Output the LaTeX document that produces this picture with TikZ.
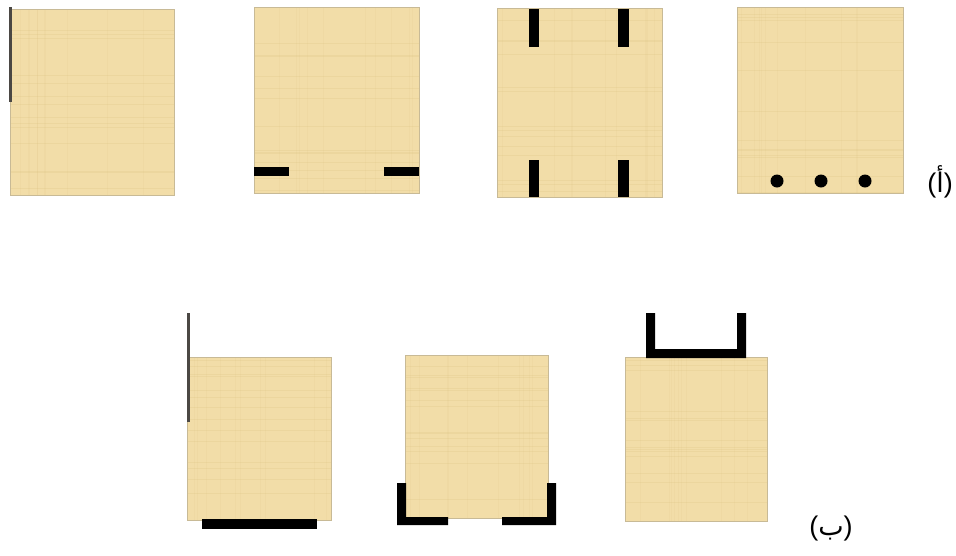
\documentclass[tikz,border=0pt]{standalone}
\usepackage{fontspec}
\setmainfont{Liberation Sans}
\newfontfamily\arabicfont[Script=Arabic]{DejaVu Sans}
\TeXXeTstate=1
\definecolor{papyrus}{RGB}{242,221,168}
\definecolor{papyrusedge}{RGB}{200,186,150}
\definecolor{papyrusfiber}{RGB}{214,186,120}
\definecolor{bargray}{RGB}{75,72,68}
\tikzset{
  sheet/.style={draw=papyrusedge, line width=0.7pt, fill=papyrus, inner sep=0pt, outer sep=0pt, anchor=north west, rectangle},
  blackbar/.style={fill=black},
  thinbar/.style={fill=bargray},
  fiber/.style={draw=papyrusfiber, line width=0.8pt, opacity=0.2},
  lbl/.style={font=\fontsize{27}{31}\selectfont, inner sep=0pt}
}
\newcommand\mysheet[5]{%
  \node[sheet, minimum width=#4pt, minimum height=#5pt] (#1) at (#2,#3) {};
  \begin{scope}
    \clip (#1.north west) rectangle (#1.south east);
    \foreach \k in {1,...,14}{
      \pgfmathsetmacro\yy{#3+rnd*#5}
      \draw[fiber] (#2,\yy) -- (#2+#4,\yy);
    }
    \foreach \k in {1,...,10}{
      \pgfmathsetmacro\xx{#2+rnd*#4}
      \draw[fiber, opacity=0.1] (\xx,#3) -- (\xx,#3+#5);
    }
  \end{scope}
  \draw[papyrusedge, line width=0.7pt] (#1.north west) rectangle (#1.south east);
}
\begin{document}
\begin{tikzpicture}[x=1pt,y=-1pt]
\pgfmathsetseed{7}
\useasboundingbox (0,0) rectangle (956,555);
% row (a)
\mysheet{a1}{10}{9}{164}{186}
\mysheet{a2}{254}{7}{165}{186}
\mysheet{a3}{497}{8}{165}{189}
\mysheet{a4}{737}{7}{166}{186}
% row (b)
\mysheet{b1}{187}{357}{144}{163}
\mysheet{b2}{405}{355}{143}{163}
\mysheet{b3}{625}{357}{142}{164}

% marks on (a)
\fill[thinbar] (8.5,7) rectangle (11.5,102);
\fill[blackbar] (254,167) rectangle (289,176);
\fill[blackbar] (384,167) rectangle (419,176);
\fill[blackbar] (529,9) rectangle (539,47);
\fill[blackbar] (618,9) rectangle (629,47);
\fill[blackbar] (529,160) rectangle (539,197);
\fill[blackbar] (618,160) rectangle (629,197);
\fill[blackbar] (777,181) circle (6.5);
\fill[blackbar] (821,181) circle (6.5);
\fill[blackbar] (865,181) circle (6.5);

% marks on (b)
\fill[thinbar] (187,313) rectangle (190,422);
\fill[blackbar] (202,519) rectangle (317,529);
\fill[blackbar] (397,483) -- (406,483) -- (406,517) -- (448,517) -- (448,525) -- (397,525) -- cycle;
\fill[blackbar] (556,483) -- (547,483) -- (547,517) -- (502,517) -- (502,525) -- (556,525) -- cycle;
\fill[blackbar] (646,313) -- (655,313) -- (655,349) -- (737,349) -- (737,313) -- (746,313) -- (746,358) -- (646,358) -- cycle;

% labels
\node[lbl] (la) at (940,182) {({\arabicfont\beginR أ\endR})};
\node[lbl] (lb) at (831,529) {({\arabicfont\beginR ب\endR})};
\end{tikzpicture}
\end{document}
